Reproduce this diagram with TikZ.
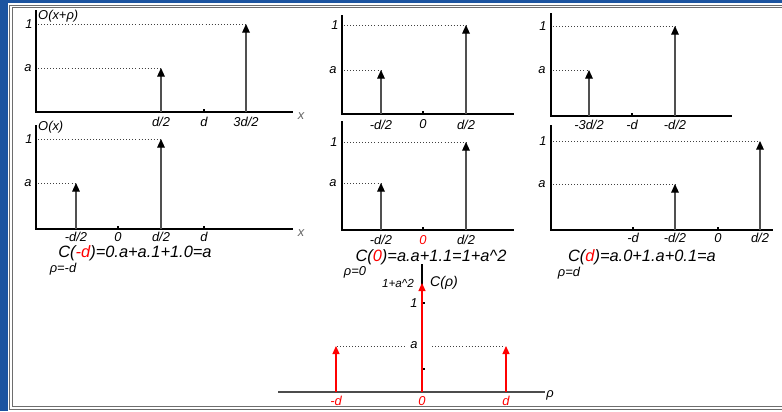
\documentclass[tikz,border=0pt]{standalone}
\usepackage{fontspec}
\setmainfont{Liberation Sans}
\usepackage{xcolor}
\usetikzlibrary{arrows.meta}
\definecolor{fondbleu}{RGB}{28,84,160}
\definecolor{cadregris}{RGB}{110,110,110}
\definecolor{tigegris}{RGB}{80,80,80}
\definecolor{rougevif}{RGB}{255,0,0}

\begin{document}
\begin{tikzpicture}[x=0.03cm, y=-0.03cm,
    axe/.style={line width=1pt},
    tige/.style={tigegris, line width=1pt, -{Triangle[length=2.6mm, width=2.3mm, color=black]}},
    tigerouge/.style={rougevif, line width=1pt, -{Triangle[length=2.4mm, width=2.1mm]}},
    niveau/.style={dotted, line width=0.6pt, black!75},
    etiq/.style={inner sep=0pt, font=\fontsize{11}{13}\selectfont\itshape},
    formule/.style={inner sep=0pt, font=\fontsize{14}{16}\selectfont\itshape}]
    \useasboundingbox (0,0) rectangle (782,411);

    % Cadre
    \fill[fondbleu] (0,0) rectangle (782,411);
    \fill[white] (8,3) rectangle (782,411);
    \draw[cadregris, line width=0.8pt] (782,5) -| (9.5,409.5) -- (782,409.5);
    \draw[cadregris, line width=0.8pt] (782,7.5) -| (12,406.5) -- (782,406.5);

    % O(x+rho)
    \draw[axe] (36,10) -- (36,112) -- (293,112);
    \draw[axe] (204,112) -- ++(0,-3);
    \draw[niveau] (38,24) -- (246,24);
    \draw[niveau] (38,68) -- (161,68);
    \draw[tige] (161,112) -- (161,68);
    \draw[tige] (246,112) -- (246,24);
    \node[etiq, anchor=west] (oxr) at (38,16) {O(x+ρ)};
    \node[etiq] (un1) at (29,24) {1};
    \node[etiq] (a1) at (28,68) {a};
    \node[etiq, black!60] (x1) at (301,116) {x};
    \node[etiq] (t1a) at (161,122) {d/2};
    \node[etiq] (t1b) at (204,122) {d};
    \node[etiq] (t1c) at (246,122) {3d/2};

    % O(x), rho=-d
    \draw[axe] (36,125) -- (36,229) -- (293,229);
    \draw[axe] (118,229) -- ++(0,-3);
    \draw[axe] (204,229) -- ++(0,-3);
    \draw[niveau] (38,139) -- (161,139);
    \draw[niveau] (38,183) -- (76,183);
    \draw[tige] (76,229) -- (76,183);
    \draw[tige] (161,229) -- (161,139);
    \node[etiq, anchor=west] (ox) at (38,127) {O(x)};
    \node[etiq] (un2) at (29,139) {1};
    \node[etiq] (a2) at (28,183) {a};
    \node[etiq, black!60] (x2) at (301,233) {x};
    \node[etiq] (t2a) at (76,237) {-d/2};
    \node[etiq] (t2b) at (118,237) {0};
    \node[etiq] (t2c) at (161,237) {d/2};
    \node[etiq] (t2d) at (204,237) {d};
    \node[formule] (c1) at (135,253) {C(\textcolor{rougevif}{-d})=0.a+a.1+1.0=a};
    \node[etiq] (r1) at (63,269) {ρ=-d};

    % Decalage de -d
    \draw[axe] (342,15) -- (342,114) -- (514,114);
    \draw[axe] (423,114) -- ++(0,-3);
    \draw[niveau] (344,25) -- (466,25);
    \draw[niveau] (344,70) -- (381,70);
    \draw[tige] (381,114) -- (381,70);
    \draw[tige] (466,114) -- (466,25);
    \node[etiq] (un3) at (335,25) {1};
    \node[etiq] (a3) at (333,70) {a};
    \node[etiq] (t3a) at (381,125) {-d/2};
    \node[etiq] (t3b) at (423,124) {0};
    \node[etiq] (t3c) at (466,125) {d/2};

    % rho=0
    \draw[axe] (342,121) -- (342,230) -- (514,230);
    \draw[axe] (423,230) -- ++(0,-3);
    \draw[niveau] (344,142) -- (466,142);
    \draw[niveau] (344,183) -- (381,183);
    \draw[tige] (381,230) -- (381,183);
    \draw[tige] (466,230) -- (466,142);
    \node[etiq] (un4) at (334,142) {1};
    \node[etiq] (a4) at (333,183) {a};
    \node[etiq] (t4a) at (381,240) {-d/2};
    \node[etiq, rougevif] (t4b) at (423,240) {0};
    \node[etiq] (t4c) at (466,240) {d/2};
    \node[formule] (c2) at (431,257) {C(\textcolor{rougevif}{0})=a.a+1.1=1+a\textasciicircum 2};
    \node[etiq] (r2) at (355,272) {ρ=0};

    % Decalage de d
    \draw[axe] (551,13) -- (551,116) -- (732,116);
    \draw[axe] (632,116) -- ++(0,-3);
    \draw[niveau] (553,26) -- (675,26);
    \draw[niveau] (553,70) -- (589,70);
    \draw[tige] (589,116) -- (589,70);
    \draw[tige] (675,116) -- (675,26);
    \node[etiq] (un5) at (543,26) {1};
    \node[etiq] (a5) at (542,70) {a};
    \node[etiq] (t5a) at (589,125) {-3d/2};
    \node[etiq] (t5b) at (632,125) {-d};
    \node[etiq] (t5c) at (675,125) {-d/2};

    % rho=d
    \draw[axe] (551,125) -- (551,230) -- (773,230);
    \draw[axe] (633,230) -- ++(0,-3);
    \draw[axe] (718,230) -- ++(0,-3);
    \draw[niveau] (553,141) -- (760,141);
    \draw[niveau] (553,184) -- (675,184);
    \draw[tige] (675,230) -- (675,184);
    \draw[tige] (760,230) -- (760,141);
    \node[etiq] (un6) at (543,141) {1};
    \node[etiq] (a6) at (542,184) {a};
    \node[etiq] (t6a) at (633,238) {-d};
    \node[etiq] (t6b) at (675,238) {-d/2};
    \node[etiq] (t6c) at (718,238) {0};
    \node[etiq] (t6d) at (760,238) {d/2};
    \node[formule] (c3) at (642,257) {C(\textcolor{rougevif}{d})=a.0+1.a+0.1=a};
    \node[etiq] (r3) at (569,273) {ρ=d};

    % C(rho)
    \draw[axe, black!70] (278,392) -- (545,392);
    \draw[axe] (422,264) -- (422,290);
    \draw[axe] (422,303) -- ++(3,0);
    \draw[axe] (422,369) -- ++(3,0);
    \draw[niveau] (337,346) -- (407,346);
    \draw[niveau] (432,346) -- (505,346);
    \draw[tigerouge] (336,392) -- (336,346);
    \draw[tigerouge] (506,392) -- (506,346);
    \draw[tigerouge] (422,392) -- (422,283);
    \node[etiq] (un7) at (414,303) {1};
    \node[etiq] (a7) at (414,345) {a};
    \node[etiq, font=\fontsize{10}{12}\selectfont\itshape] (max) at (398,283) {1+a\textasciicircum 2};
    \node[etiq, font=\fontsize{12}{14}\selectfont\itshape] (cr) at (444,283) {C(ρ)};
    \node[etiq] (rho) at (550,395) {ρ};
    \node[etiq, rougevif] (t7a) at (336,401) {-d};
    \node[etiq, rougevif] (t7b) at (422,401) {0};
    \node[etiq, rougevif] (t7c) at (506,401) {d};
\end{tikzpicture}
\end{document}
